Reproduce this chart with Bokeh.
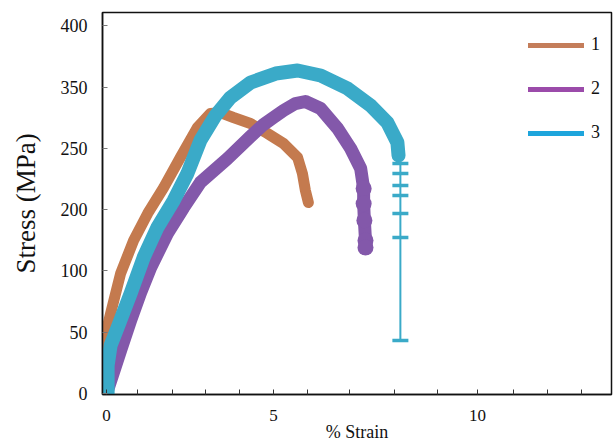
from bokeh.plotting import figure
from bokeh.models import Range1d, FixedTicker, Legend, LegendItem
from bokeh.embed import file_html
from bokeh.resources import INLINE

# ---- data ----
s1_strain = [-0.08, 0.0, 0.11, 0.38, 0.73, 1.11, 1.54, 1.99, 2.45, 2.80, 3.07, 3.42, 3.88, 4.34, 4.77, 5.15, 5.28, 5.36, 5.44]
s1_stress = [50.0, 68.5, 87.0, 130.5, 166.4, 195.8, 224.0, 256.7, 289.3, 304.5, 305.5, 300.2, 293.7, 282.8, 271.9, 256.7, 239.3, 220.8, 207.7]

s2_strain = [0.0, 0.16, 0.38, 0.65, 0.92, 1.19, 1.64, 2.08, 2.53, 3.26, 3.88, 4.23, 4.50, 4.77, 5.09, 5.36, 5.77, 6.23, 6.58, 6.85, 6.93, 6.93, 6.95, 6.98, 6.98]
s2_stress = [0.0, 19.6, 46.8, 79.4, 109.8, 137.0, 174.0, 202.3, 229.5, 255.5, 279.5, 292.5, 300.2, 307.8, 315.4, 317.6, 310.0, 288.2, 266.5, 244.7, 223.0, 206.6, 188.2, 166.4, 158.8]

s3_strain = [0.03, 0.03, 0.11, 0.30, 0.65, 1.00, 1.37, 1.81, 2.18, 2.53, 2.94, 3.34, 3.88, 4.56, 5.15, 5.77, 6.50, 7.12, 7.57, 7.84, 7.87]
s3_stress = [0.0, 30.5, 52.2, 71.8, 108.8, 147.9, 180.5, 209.9, 239.3, 275.2, 302.4, 321.9, 338.2, 348.0, 351.3, 345.9, 331.7, 313.2, 294.7, 273.0, 258.9]

s3_tail_strain = [7.87, 7.92, 7.92, 7.92, 7.92, 7.92, 7.92, 7.92]
s3_tail_stress = [258.9, 250.1, 239.3, 226.2, 215.3, 195.8, 169.7, 57.6]

x_tick_values = [0, 0.84, 1.78, 2.67, 3.58, 4.50, 5.42, 6.55, 7.76, 8.92, 10.0, 10.97, 11.89, 12.80]
x_tick_labels = ["0", "", "", "", "", "5", "", "", "", "", "10", "", "", ""]
y_tick_values = [0, 66.67, 133.33, 200, 266.67, 333.33, 400]
y_tick_labels = ["0", "50", "100", "200", "250", "350", "400"]

series_names = ["1", "2", "3"]
curve_colors = ["#C47A4E", "#8358AA", "#3AAAC8"]
legend_colors = ["#C47D5A", "#9B4BAA", "#1EA5DC"]

FONT = "'Liberation Serif', 'Times New Roman', serif"
NAN = float("nan")

p = figure(width=613, height=444, output_backend="svg", toolbar_location=None,
           x_range=Range1d(-0.108, 13.61), y_range=Range1d(-1.09, 414.4),
           min_border_left=102, min_border_right=2, min_border_top=12, min_border_bottom=50)
p.xgrid.visible = False
p.ygrid.visible = False
p.outline_line_color = "#111111"
p.outline_line_width = 1.5
p.background_fill_color = "white"
p.border_fill_color = "white"

# curves
p.line(s1_strain, s1_stress, line_color=curve_colors[0], line_width=11, line_join="round", line_cap="round")
p.line(s2_strain, s2_stress, line_color=curve_colors[1], line_width=13, line_join="round", line_cap="round")
p.scatter(s2_strain[-5:], s2_stress[-5:], marker="circle", size=16, fill_color=curve_colors[1], line_color=None)
p.line(s3_strain, s3_stress, line_color=curve_colors[2], line_width=14, line_join="round", line_cap="round")
p.line(s3_tail_strain, s3_tail_stress, line_color=curve_colors[2], line_width=2)
p.scatter(s3_tail_strain[1:], s3_tail_stress[1:], marker="dash", size=16, line_color=curve_colors[2], line_width=3.5)

# legend-only renderers (nothing visible in the plot area)
leg_renderers = []
for c in legend_colors:
    leg_renderers.append(p.line([NAN], [NAN], line_color=c, line_width=5, line_cap="round"))
legend = Legend(items=[LegendItem(label=n, renderers=[r]) for n, r in zip(series_names, leg_renderers)],
                location=(426, 251), padding=0, margin=0, spacing=23,
                glyph_width=56, glyph_height=20, label_height=20, label_standoff=7,
                label_text_font=FONT, label_text_font_size="18px", label_text_color="#111111",
                border_line_color=None, background_fill_alpha=0)
p.add_layout(legend, "center")

# axes
p.xaxis.ticker = FixedTicker(ticks=x_tick_values, minor_ticks=[])
p.xaxis.major_label_overrides = {v: l for v, l in zip(x_tick_values, x_tick_labels)}
p.yaxis.ticker = FixedTicker(ticks=y_tick_values, minor_ticks=[])
p.yaxis.major_label_overrides = {v: l for v, l in zip(y_tick_values, y_tick_labels)}

for ax in (p.xaxis[0], p.yaxis[0]):
    ax.axis_line_color = "#111111"
    ax.axis_line_width = 1.5
    ax.major_tick_in = 5
    ax.major_tick_out = 0
    ax.minor_tick_in = 0
    ax.minor_tick_out = 0
    ax.major_label_text_font = FONT
    ax.major_label_text_color = "#111111"
    ax.axis_label_text_font = FONT
    ax.axis_label_text_font_style = "normal"
    ax.axis_label_text_color = "#111111"

p.xaxis.major_tick_line_color = "#333333"
p.yaxis.major_tick_line_color = "#777777"
p.xaxis.major_label_text_font_size = "17px"
p.yaxis.major_label_text_font_size = "18px"
p.xaxis.major_label_standoff = 15
p.yaxis.major_label_standoff = 15
p.xaxis.axis_label = "% Strain"
p.yaxis.axis_label = "Stress (MPa)"
p.xaxis.axis_label_text_font_size = "18px"
p.yaxis.axis_label_text_font_size = "27px"
p.xaxis.axis_label_standoff = -2
p.yaxis.axis_label_standoff = 17

open("out.html", "w").write(file_html(p, INLINE))
